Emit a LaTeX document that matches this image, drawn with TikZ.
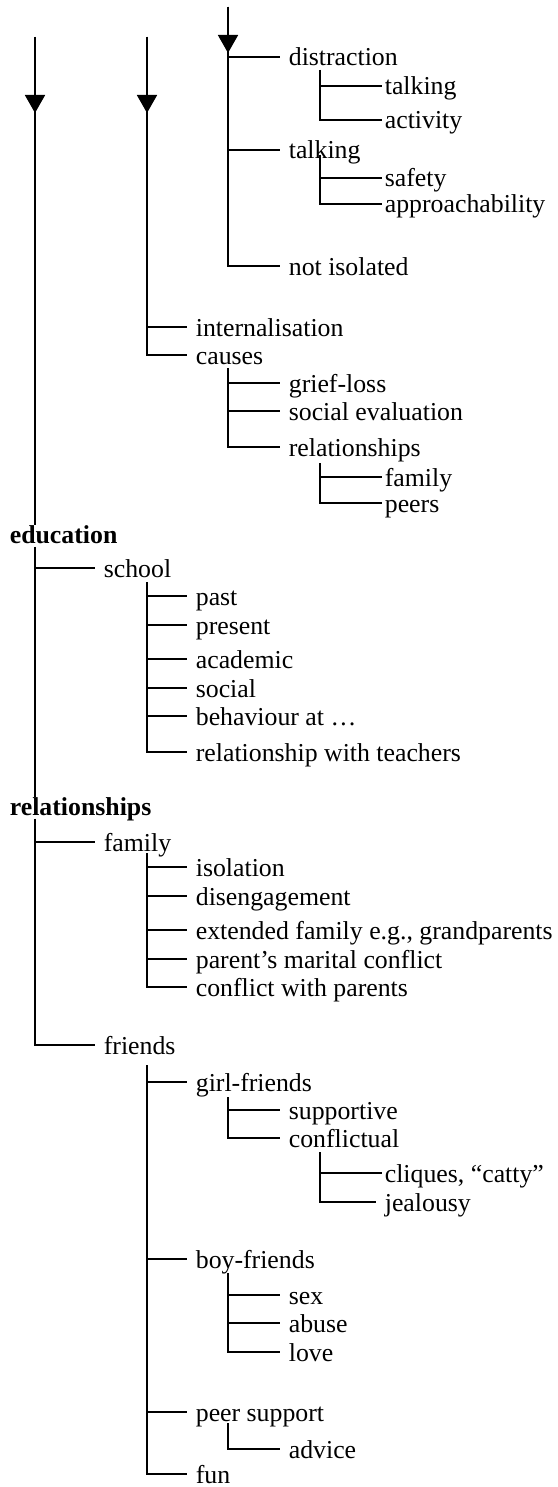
\documentclass[tikz,border=0pt]{standalone}
\usepackage{fontspec}
\setmainfont{Liberation Serif}
\usetikzlibrary{arrows.meta}

\begin{document}
\begin{tikzpicture}[x=0.5pt,y=0.5pt,yscale=-1,xscale=1,line width=0.85pt,
  item/.style={anchor=west,inner xsep=4pt,inner ysep=0.5pt,text height=10pt,text depth=1pt,font=\fontsize{12.9pt}{15pt}\selectfont},
  leaf/.style={item,inner xsep=1pt},
  head/.style={anchor=base west,inner xsep=0pt,inner ysep=0.5pt,text height=8pt,text depth=1pt,font=\fontsize{12.9pt}{15pt}\selectfont\bfseries},
  downarrow/.style={-{Triangle[length=9pt,width=10pt]}}]
\useasboundingbox (0,0) rectangle (557,1487);

% Text Node: third column
\node[item] (distr) at (280,57) {distraction};
\node[leaf] (talkA) at (382,86) {talking};
\node[leaf] (activ) at (382,120) {activity};
\node[item] (talkB) at (280,150) {talking};
\node[leaf] (safe) at (382,178) {safety};
\node[leaf] (appr) at (382,204) {approachability};
\node[item] (notiso) at (280,266) {not isolated};

% Text Node: second column
\node[item] (intern) at (187,327) {internalisation};
\node[item] (causes) at (187,355) {causes};
\node[item] (grief) at (280,383) {grief-loss};
\node[item] (soceval) at (280,411) {social evaluation};
\node[item] (relsA) at (280,447) {relationships};
\node[leaf] (famA) at (382,477) {family};
\node[leaf] (peers) at (382,503) {peers};

% Text Node: education
\node[head] (edu) at (9,543) {education};
\node[item] (school) at (95,568) {school};
\node[item] (past) at (187,596) {past};
\node[item] (present) at (187,625) {present};
\node[item] (academic) at (187,659) {academic};
\node[item] (social) at (187,688) {social};
\node[item] (behav) at (187,716) {behaviour at …};
\node[item] (teach) at (187,752) {relationship with teachers};

% Text Node: relationships
\node[head] (rels) at (9,815) {relationships};
\node[item] (famB) at (95,842) {family};
\node[item] (isol) at (187,867) {isolation};
\node[item] (diseng) at (187,896) {disengagement};
\node[item] (ext) at (187,930) {extended family e.g., grandparents};
\node[item] (marital) at (187,959) {parent’s marital conflict};
\node[item] (confl) at (187,987) {conflict with parents};
\node[item] (friends) at (95,1045) {friends};
\node[item] (girl) at (187,1082) {girl-friends};
\node[item] (supp) at (280,1110) {supportive};
\node[item] (conflu) at (280,1138) {conflictual};
\node[leaf] (cliq) at (382,1173) {cliques, “catty”};
\node[item] (jeal) at (376,1202) {jealousy};
\node[item] (boy) at (187,1259) {boy-friends};
\node[item] (sex) at (280,1295) {sex};
\node[item] (abuse) at (280,1323) {abuse};
\node[item] (love) at (280,1352) {love};
\node[item] (peer) at (187,1412) {peer support};
\node[item] (advice) at (280,1449) {advice};
\node[item] (fun) at (187,1474) {fun};

% spine tops
\coordinate (topA) at (35,37);
\coordinate (tipA) at (35,113);
\coordinate (topB) at (147,37);
\coordinate (tipB) at (147,113);
\coordinate (topC) at (228,7);
\coordinate (tipC) at (228,53);
\coordinate (distrS) at (320,70);
\coordinate (talkS) at (320,155);
\coordinate (causesS) at (228,368);
\coordinate (relsS) at (320,463);
\coordinate (schoolS) at (147,582);
\coordinate (famS) at (147,853);
\coordinate (friendsS) at (147,1065);
\coordinate (girlS) at (228,1097);
\coordinate (conflS) at (320,1152);
\coordinate (boyS) at (228,1273);
\coordinate (peerS) at (228,1423);

% Arrows
\draw[downarrow] (topA) -- (tipA);
\draw[downarrow] (topB) -- (tipB);
\draw[downarrow] (topC) -- (tipC);

% Straight Lines: third column
\draw (topC) |- (distr.west);
\draw (topC) |- (talkB.west);
\draw (topC) |- (notiso.west);
\draw (distrS) |- (talkA.west);
\draw (distrS) |- (activ.west);
\draw (talkS) |- (safe.west);
\draw (talkS) |- (appr.west);

% Straight Lines: second column
\draw (topB) |- (intern.west);
\draw (topB) |- (causes.west);
\draw (causesS) |- (grief.west);
\draw (causesS) |- (soceval.west);
\draw (causesS) |- (relsA.west);
\draw (relsS) |- (famA.west);
\draw (relsS) |- (peers.west);

% Straight Lines: first column
\draw (topA) -- (topA |- edu.north);
\draw (topA |- edu.south) |- (school.west);
\draw (topA |- edu.south) -- (topA |- rels.north);
\draw (topA |- rels.south) |- (famB.west);
\draw (topA |- rels.south) |- (friends.west);

% Straight Lines: school
\draw (schoolS) |- (past.west);
\draw (schoolS) |- (present.west);
\draw (schoolS) |- (academic.west);
\draw (schoolS) |- (social.west);
\draw (schoolS) |- (behav.west);
\draw (schoolS) |- (teach.west);

% Straight Lines: family
\draw (famS) |- (isol.west);
\draw (famS) |- (diseng.west);
\draw (famS) |- (ext.west);
\draw (famS) |- (marital.west);
\draw (famS) |- (confl.west);

% Straight Lines: friends
\draw (friendsS) |- (girl.west);
\draw (friendsS) |- (boy.west);
\draw (friendsS) |- (peer.west);
\draw (friendsS) |- (fun.west);
\draw (girlS) |- (supp.west);
\draw (girlS) |- (conflu.west);
\draw (conflS) |- (cliq.west);
\draw (conflS) |- (jeal.west);
\draw (boyS) |- (sex.west);
\draw (boyS) |- (abuse.west);
\draw (boyS) |- (love.west);
\draw (peerS) |- (advice.west);

\end{tikzpicture}
\end{document}
